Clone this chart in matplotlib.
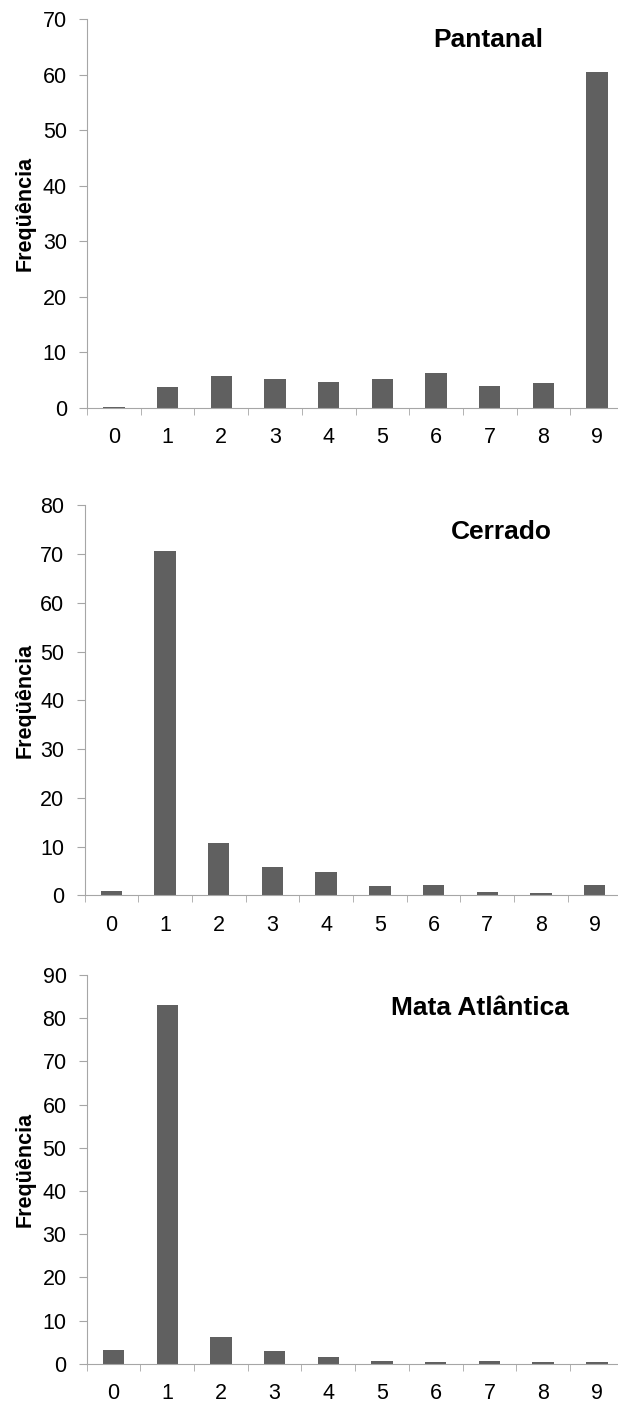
import matplotlib.pyplot as plt
import numpy as np

plt.rcParams['font.family'] = ['Liberation Sans', 'DejaVu Sans']

categories = ['0', '1', '2', '3', '4', '5', '6', '7', '8', '9']
pantanal = [0.2, 3.8, 5.8, 5.2, 4.7, 5.2, 6.3, 3.9, 4.5, 60.4]
cerrado = [0.8, 70.6, 10.8, 5.9, 4.8, 1.9, 2.1, 0.6, 0.4, 2.1]
mata_atlantica = [3.2, 83.0, 6.2, 3.0, 1.5, 0.7, 0.5, 0.7, 0.5, 0.3]

W, H = 618, 1403
# name, values, ymax, (left px, top px, bottom px), title (center x px, baseline y px)
panels = [
    ("Pantanal", pantanal, 70, (87, 19, 408), (488, 47)),
    ("Cerrado", cerrado, 80, (84.5, 505.5, 895.3), (501, 539)),
    ("Mata Atlântica", mata_atlantica, 90, (86.7, 975, 1363.7), (480, 1015)),
]

fig = plt.figure(figsize=(W / 100, H / 100), dpi=100)
axis_col = "#a6a6a6"
x = np.arange(len(categories))

for name, vals, ymax, (lx, ty, by), (tx, tyb) in panels:
    rect = [lx / W, 1 - by / H, 537 / W, (by - ty) / H]
    ax = fig.add_axes(rect)
    ax.bar(x, vals, width=0.4, color="#606060")
    ax.set_xlim(-0.5, 9.5)
    ax.set_ylim(0, ymax)
    ax.set_yticks(np.arange(0, ymax + 1, 10))
    ax.set_xticks(x)
    ax.set_xticklabels(categories)
    ax.set_xticks(np.arange(-0.5, 9.5, 1), minor=True)
    ax.tick_params(axis='x', which='major', length=0, pad=14, labelsize=15.5)
    ax.tick_params(axis='x', which='minor', length=5, color=axis_col, direction='out')
    ax.tick_params(axis='y', length=5.5, color=axis_col, labelsize=15.5, pad=9)
    for s in ['top', 'right']:
        ax.spines[s].set_visible(False)
    for s in ['left', 'bottom']:
        ax.spines[s].set_color(axis_col)
    fig.text(tx / W, 1 - tyb / H, name, ha='center', va='baseline',
             fontsize=19, fontweight='bold')
    cy = 1 - (ty + by) / 2 / H
    fig.text(25 / W, cy, "Freqüência", rotation=90, ha='center', va='center',
             fontsize=15.5, fontweight='bold')

fig.savefig("out.png", dpi=100)
